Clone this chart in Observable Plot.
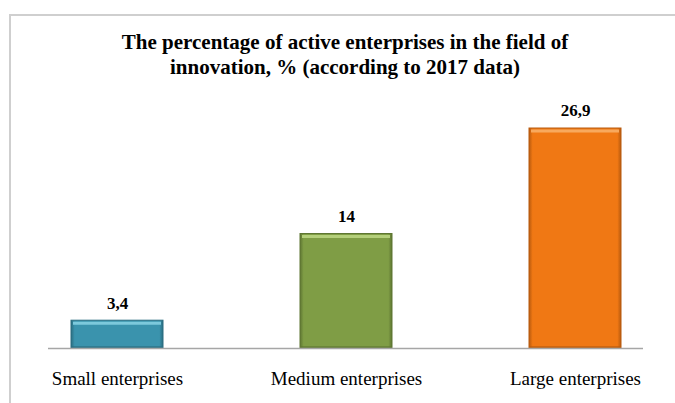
<!DOCTYPE html>
<html>
<head>
<meta charset="utf-8">
<script src="https://cdn.jsdelivr.net/npm/d3@7"></script>
<script src="https://cdn.jsdelivr.net/npm/@observablehq/plot@0.6"></script>
<style>
  html, body { margin: 0; padding: 0; background: #fff; }
  #wrap { position: relative; width: 675px; height: 403px; overflow: hidden; }
  #frame { position: absolute; left: 9px; top: 14px; right: -5px; bottom: -5px;
           border-top: 2px solid #cfcfcf; border-left: 2px solid #cfcfcf; }
  #title { position: absolute; left: 0; top: 30px; width: 690px; text-align: center;
           font-family: "Liberation Serif", serif; font-weight: bold; font-size: 21px;
           line-height: 25px; color: #000; }
  #chart { position: absolute; left: 0; top: 0; }
  #chart svg text { font-family: "Liberation Serif", serif; }
</style>
</head>
<body>
<div id="wrap">
  <div id="frame"></div>
  <div id="chart"></div>
  <div id="title">The percentage of active enterprises in the field of<br>innovation, % (according to 2017 data)</div>
</div>
<script>
const categories = ["Small enterprises", "Medium enterprises", "Large enterprises"];
const values = [3.4, 14, 26.9];
const valueLabels = ["3,4", "14", "26,9"];
const colors = ["#3a93ad", "#7f9d45", "#f07814"];
const lightColors = ["#7cc9dc", "#b4cf7a", "#f8a95e"];
const darkColors = ["#2a6d80", "#5e7632", "#b85a0e"];

const data = categories.map((c, i) => ({
  category: c, value: values[i], label: valueLabels[i], idx: i
}));

const plot = Plot.plot({
  width: 675,
  height: 403,
  marginLeft: 48,
  marginRight: 32,
  marginTop: 100,
  marginBottom: 55,
  style: { background: "transparent", fontFamily: "'Liberation Serif', serif", overflow: "visible" },
  x: { domain: categories, range: [24, 667], paddingInner: 0.6, paddingOuter: 0.2, label: null },
  y: { domain: [0, 30], range: [348, 348 - 30 * 8.178], axis: null },
  marks: [
    Plot.barY(data, {
      x: "category", y: "value",
      fill: d => `url(#grad${d.idx})`,
      stroke: d => darkColors[d.idx], strokeWidth: 1
    }),
    Plot.tickY(data, {
      x: "category", y: "value",
      stroke: d => lightColors[d.idx], strokeWidth: 3, dy: 2.5, inset: 2
    }),
    Plot.tickY(data, {
      x: "category", y: 0,
      stroke: d => darkColors[d.idx], strokeWidth: 2, dy: -1.5, inset: 1, strokeOpacity: 0.6
    }),
    Plot.ruleY([0], { stroke: "#a6a6a6", strokeWidth: 1.5 }),
    Plot.text(data, {
      x: "category", y: "value", text: "label",
      dy: -17.5, fontSize: 17, fontWeight: "bold", fill: "#000"
    }),
    Plot.axisX({
      tickSize: 0, tickPadding: 23, fontSize: 19, fill: "#000"
    })
  ]
});

// horizontal gradients giving the bars darker side edges
const svg = d3.select(plot);
const defs = svg.insert("defs", ":first-child");
colors.forEach((c, i) => {
  const g = defs.append("linearGradient").attr("id", `grad${i}`)
    .attr("x1", "0").attr("x2", "1").attr("y1", "0").attr("y2", "0");
  g.append("stop").attr("offset", "0").attr("stop-color", darkColors[i]);
  g.append("stop").attr("offset", "0.04").attr("stop-color", c);
  g.append("stop").attr("offset", "0.96").attr("stop-color", c);
  g.append("stop").attr("offset", "1").attr("stop-color", darkColors[i]);
});

document.getElementById("chart").appendChild(plot);
</script>
</body>
</html>
